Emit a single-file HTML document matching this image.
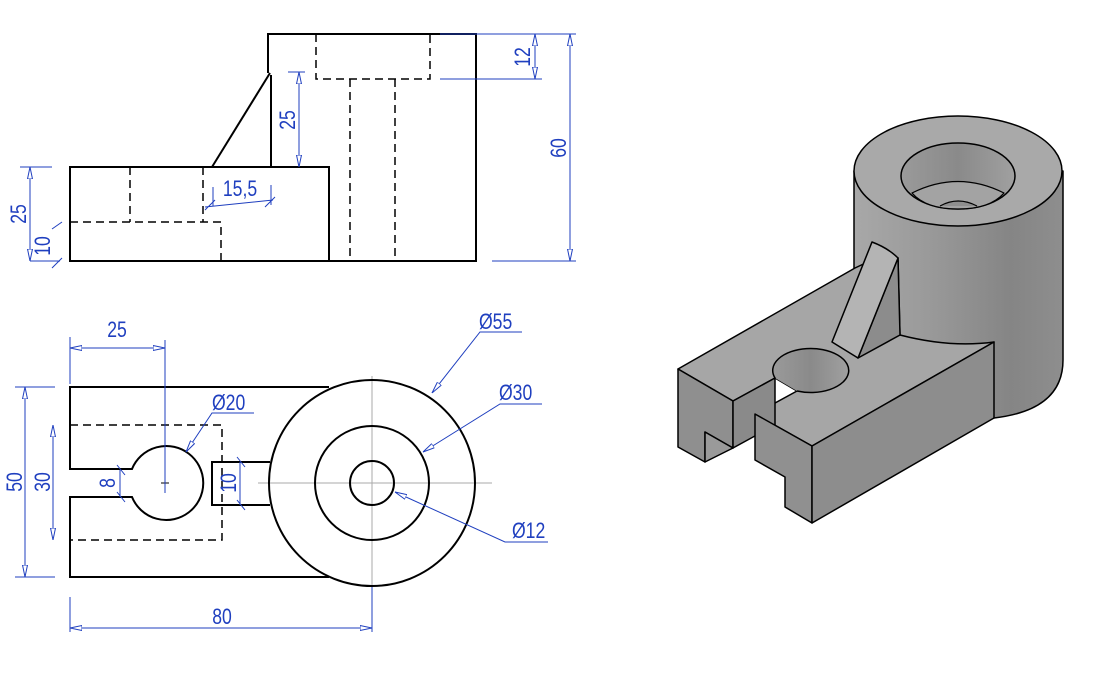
<!DOCTYPE html>
<html><head><meta charset="utf-8"><style>html,body{margin:0;padding:0;background:#fff}svg{display:block}</style></head><body>
<svg width="1104" height="680" viewBox="0 0 1104 680" xmlns="http://www.w3.org/2000/svg" font-family="Liberation Sans, DejaVu Sans, sans-serif">
<defs>
<linearGradient id="cyl" x1="0" x2="1" y1="0" y2="0">
<stop offset="0" stop-color="#a8a8a8"/><stop offset="0.35" stop-color="#9a9a9a"/><stop offset="0.75" stop-color="#858585"/><stop offset="1" stop-color="#8e8e8e"/></linearGradient>
<linearGradient id="hole" x1="0" x2="1"><stop offset="0" stop-color="#9a9a9a"/><stop offset="0.5" stop-color="#8a8a8a"/><stop offset="1" stop-color="#a0a0a0"/></linearGradient>
<marker id="a" viewBox="0 0 12 6" refX="12" refY="3" markerWidth="12" markerHeight="6" markerUnits="userSpaceOnUse" orient="auto-start-reverse">
<path d="M0,0.5 L12,3 L0,5.5 Z" fill="#fff" stroke="#1f3fbf" stroke-width="1"/></marker>
</defs>
<!-- FRONT VIEW -->
<g fill="none" stroke="#000" stroke-width="2">
<path d="M70,167 H329 V261 H70 Z"/>
<path d="M268,73 V34 H476 V261 H329"/>
<path d="M270,73 L212,167"/>
<path d="M271,75 V167"/>
</g>
<g fill="none" stroke="#000" stroke-width="1.5" stroke-dasharray="8,5">
<path d="M316,34 V79 H430 V34"/>
<path d="M350,79 V261 M395,79 V261"/>
<path d="M130,167 V222 M203,167 V222 M70,222 H221 V261"/>
</g>
<g fill="none" stroke="#1f3fbf" stroke-width="1">
<path d="M440,34 H542 M440,79 H542 M476,34 H576 M492,261 H576 M288,72 H305 M20,167 H52 M30,261 H60"/>
<path d="M535,34 V79" marker-start="url(#a)" marker-end="url(#a)"/>
<path d="M570,34 V261" marker-start="url(#a)" marker-end="url(#a)"/>
<path d="M299,72 V167" marker-start="url(#a)" marker-end="url(#a)"/>
<path d="M30,167 V261" marker-start="url(#a)" marker-end="url(#a)"/>
<path d="M52,229 L62,222 M52,268 L62,258"/>
<path d="M205,207 L273,200 M213,187 V206 M271,185 V205 M205,210 L215,200 M265,207 L275,197"/>
</g>
<g fill="#1f3fbf" font-size="22">
<text transform="translate(530,57) rotate(-90) scale(0.8,1)" text-anchor="middle">12</text>
<text transform="translate(566,148) rotate(-90) scale(0.8,1)" text-anchor="middle">60</text>
<text transform="translate(295,120) rotate(-90) scale(0.8,1)" text-anchor="middle">25</text>
<text transform="translate(26,214) rotate(-90) scale(0.8,1)" text-anchor="middle">25</text>
<text transform="translate(50,246) rotate(-90) scale(0.8,1)" text-anchor="middle">10</text>
<text transform="translate(240,196) scale(0.8,1)" text-anchor="middle">15,5</text>
</g>
<!-- TOP VIEW -->
<g stroke="#aaa" stroke-width="1" fill="none">
<path d="M372,376 V600 M258,483 H492"/>
</g>
<g fill="none" stroke="#000" stroke-width="2">
<path d="M329,387 H70 V469 H132 A37,37 0 1 1 132,497 H70 V577 H329"/>
<path d="M270,462 H212 V505 H270"/>
<circle cx="372" cy="483" r="103"/>
<circle cx="372" cy="483" r="57"/>
<circle cx="372" cy="483" r="22"/>
</g>
<path d="M70,425 H222 V540 H70" fill="none" stroke="#000" stroke-width="1.5" stroke-dasharray="8,5"/>
<path d="M161,483 H169 M165,479 V487" stroke="#000" stroke-width="1"/>
<g fill="none" stroke="#1f3fbf" stroke-width="1">
<path d="M70,337 V384 M165,340 V493 M15,387 H55 M15,577 H55 M70,597 V632 M372,587 V632"/>
<path d="M70,348 H165" marker-start="url(#a)" marker-end="url(#a)"/>
<path d="M25,387 V577" marker-start="url(#a)" marker-end="url(#a)"/>
<path d="M53,425 V540" marker-start="url(#a)" marker-end="url(#a)"/>
<path d="M70,628 H372" marker-start="url(#a)" marker-end="url(#a)"/>
<path d="M120,470 V497 M117,465 L125,475 M117,492 L125,502"/>
<path d="M240,462 V505 M237,457 L245,467 M237,500 L245,510"/>
<path d="M522,332 H480 L432,393" marker-end="url(#a)"/>
<path d="M542,404 H500 L423,452" marker-end="url(#a)"/>
<path d="M254,413 H212 L186,452" marker-end="url(#a)"/>
<path d="M548,542 H505 L395,492" marker-end="url(#a)"/>
</g>
<g fill="#1f3fbf" font-size="22">
<text transform="translate(117,337) scale(0.8,1)" text-anchor="middle">25</text>
<text transform="translate(22,482) rotate(-90) scale(0.8,1)" text-anchor="middle">50</text>
<text transform="translate(50,482) rotate(-90) scale(0.8,1)" text-anchor="middle">30</text>
<text transform="translate(115,483) rotate(-90) scale(0.8,1)" text-anchor="middle">8</text>
<text transform="translate(236,483) rotate(-90) scale(0.8,1)" text-anchor="middle">10</text>
<text transform="translate(222,624) scale(0.8,1)" text-anchor="middle">80</text>
<text transform="translate(479,329) scale(0.8,1)">Ø55</text>
<text transform="translate(499,400) scale(0.8,1)">Ø30</text>
<text transform="translate(212,410) scale(0.8,1)">Ø20</text>
<text transform="translate(512,538) scale(0.8,1)">Ø12</text>
</g>
<!-- ISO VIEW -->
<g stroke="#000" stroke-width="1.5" stroke-linejoin="round">
<path d="M854,171 V360 L994,418 Q1063,410 1063,360 V171 Z" fill="url(#cyl)"/>
<ellipse cx="958" cy="171" rx="104" ry="55" fill="#a9a9a9"/>
<ellipse cx="958" cy="176" rx="57" ry="33" fill="url(#hole)"/>
<path d="M912,193 Q958,170 1004,193 Q990,209 958,209 Q926,209 912,193 Z" fill="#a3a3a3" stroke-width="1.2"/>
<path d="M940,206 Q958,196 977,206" fill="#8f8f8f" stroke-width="1.2"/>
<path d="M678,369 L855,268 L872,260 L898,258 L900,335 Q950,348 994,342 L812,446 L755,414 L797,391 L775,378 L733,401 Z" fill="#a6a6a6"/>
<path d="M898,258 L858,358 L900,335 Z" fill="#8c8c8c"/>
<path d="M872,242 Q888,248 898,258 L858,358 L832,342 Z" fill="#b4b4b4"/>
<path d="M775,378 A38,22 0 1 1 797,391" fill="url(#hole)"/>
<path d="M678,369 L733,401 V448 L705,432 V462 L678,447 Z" fill="#8f8f8f"/>
<path d="M705,432 L733,448 L705,462 Z" fill="#9a9a9a"/>
<path d="M733,401 L775,378 V425 L733,448 Z" fill="#8a8a8a"/>
<path d="M755,414 L812,446 V523 L785,507 V477 L755,460 Z" fill="#909090"/>
<path d="M812,446 L994,342 V418 L812,523 Z" fill="#8d8d8d"/>
</g>
</svg>
</body></html>
